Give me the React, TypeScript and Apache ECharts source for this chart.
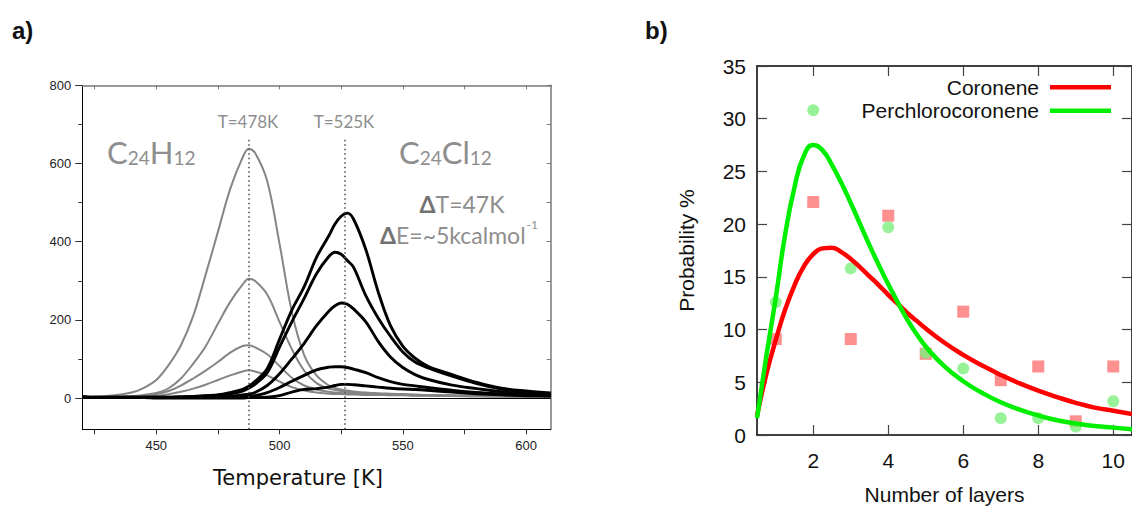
import React, { useEffect, useRef } from "react";
import * as echarts from "echarts";

// ---------- Panel a: TPD traces ----------
const temperatureK = [420, 430, 440, 445, 450, 455, 460, 465, 470, 475, 480, 485, 487.5, 490, 495, 500, 505, 510, 515, 520, 522.5, 525, 527.5, 530, 535, 540, 545, 550, 555, 560, 570, 580, 590, 600, 610];

// C24H12 (grey) traces
const c24h12Trace1 = [2, 5, 14, 26, 46, 84, 135, 210, 315, 425, 535, 615, 638, 628, 555, 395, 220, 110, 58, 32, 26, 22, 19, 17, 14, 12, 11, 10, 9, 8, 7, 6, 5, 4, 3];
const c24h12Trace2 = [1, 2, 5, 8, 13, 25, 50, 88, 132, 190, 246, 290, 305, 300, 265, 195, 125, 70, 38, 24, 21, 18, 16, 14, 12, 10, 9, 8, 7, 7, 6, 5, 4, 4, 3];
const c24h12Trace3 = [1, 2, 4, 6, 10, 18, 32, 50, 70, 92, 116, 133, 135, 130, 112, 82, 52, 32, 22, 16, 14, 13, 12, 11, 10, 9, 8, 8, 7, 7, 6, 5, 4, 3, 3];
const c24h12Trace4 = [0, 1, 2, 4, 6, 10, 16, 24, 34, 46, 58, 68, 71, 68, 58, 42, 28, 19, 14, 11, 10, 10, 9, 9, 8, 8, 7, 7, 6, 6, 5, 4, 4, 3, 3];

// C24Cl12 (black) traces
const c24cl12Trace1 = [3, 2, 2, 2, 2, 2, 3, 4, 6, 8, 14, 22, 30, 42, 75, 150, 225, 285, 360, 415, 445, 465, 473, 458, 380, 272, 185, 133, 102, 82, 60, 40, 25, 18, 13];
const c24cl12Trace2 = [3, 2, 2, 2, 2, 2, 3, 4, 5, 7, 11, 18, 25, 35, 65, 130, 195, 255, 318, 362, 373, 368, 352, 335, 262, 205, 158, 118, 92, 78, 56, 37, 23, 15, 10];
const c24cl12Trace3 = [2, 1, 1, 1, 1, 1, 1, 2, 2, 3, 5, 8, 10, 14, 32, 62, 100, 140, 185, 222, 236, 243, 240, 228, 195, 145, 105, 78, 60, 48, 33, 24, 16, 11, 8];
const c24cl12Trace4 = [2, 1, 1, 1, 1, 1, 1, 1, 1, 2, 2, 3, 4, 6, 14, 27, 43, 58, 72, 79, 80, 80, 78, 74, 65, 52, 42, 35, 31, 27, 20, 14, 10, 7, 6];
const c24cl12Trace5 = [2, 1, 1, 1, 0, 0, 0, 0, 0, 0, 0, 0, 1, 1, 2, 6, 15, 22, 24, 28, 32, 35, 35, 34, 31, 28, 25, 23, 22, 20, 15, 11, 8, 6, 5];

const peakMarkersK = [487.5, 526.5];
const aXTicks = [425, 450, 475, 500, 525, 550, 575, 600];
const aXLabels = [450, 500, 550, 600];
const aYTicks = [0, 100, 200, 300, 400, 500, 600, 700, 800];
const aYLabels = [0, 200, 400, 600, 800];
const aYMinor = [100, 300, 500, 700];

// ---------- Panel b: layer distribution ----------
const layers = [1, 2, 3, 4, 5, 6, 7, 8, 9, 10];
const coroneneObs = [9.1, 22.1, 9.1, 20.8, 7.7, 11.7, 5.2, 6.5, 1.3, 6.5];
const perchloroObs = [12.6, 30.8, 15.8, 19.7, 7.8, 6.3, 1.6, 1.6, 0.8, 3.2];
const fitLayers = [0.5, 0.75, 1, 1.25, 1.5, 1.75, 2, 2.25, 2.5, 2.75, 3, 3.25, 3.5, 3.75, 4, 4.25, 4.5, 4.75, 5, 5.5, 6, 6.5, 7, 7.5, 8, 8.5, 9, 9.5, 10, 10.5];
const coroneneFit = [1.8, 5.8, 9.0, 11.9, 14.2, 16.0, 17.15, 17.7, 17.75, 17.35, 16.7, 15.9, 15.05, 14.2, 13.3, 12.45, 11.6, 10.85, 10.1, 8.75, 7.6, 6.6, 5.7, 4.9, 4.2, 3.6, 3.05, 2.6, 2.3, 2.0];
const perchloroFit = [1.6, 7.5, 13.0, 19.0, 23.5, 26.5, 27.5, 27.0, 25.6, 23.9, 22.0, 20.0, 18.0, 16.1, 14.3, 12.6, 11.0, 9.6, 8.4, 6.5, 5.1, 4.0, 3.1, 2.4, 1.85, 1.4, 1.1, 0.85, 0.7, 0.55];
const bXTicks = [2, 4, 6, 8, 10];

const pairs = (xs: number[], ys: number[]) => xs.map((x, i) => [x, ys[i]]);

const GREY = "#858585";
const LABEL_GREY = "#8e8e8e";
const ANNOT_FONT = "Lato, 'Open Sans', sans-serif";

export default function App() {
  const ref = useRef<HTMLDivElement>(null);

  useEffect(() => {
    document.body.style.margin = "0";
    if (!ref.current) return;
    const chart = echarts.init(ref.current, undefined, { renderer: "svg" });

    const greyLine = (name: string, ys: number[]) => ({
      name,
      type: "line",
      xAxisIndex: 0,
      yAxisIndex: 0,
      data: pairs(temperatureK, ys),
      smooth: 0.35,
      showSymbol: false,
      symbol: "none",
      lineStyle: { color: GREY, width: 2 },
      z: 2,
    });
    const blackLine = (name: string, ys: number[]) => ({
      name,
      type: "line",
      xAxisIndex: 0,
      yAxisIndex: 0,
      data: pairs(temperatureK, ys),
      smooth: 0.35,
      showSymbol: false,
      symbol: "none",
      lineStyle: { color: "#000", width: 2.9 },
      z: 3,
    });

    const option: any = {
      animation: false,
      grid: [
        { left: 82.3, top: 85.3, width: 468.4, height: 344, containLabel: false },
        { left: 757, top: 66, width: 376, height: 374, containLabel: false },
      ],
      xAxis: [
        {
          type: "value", gridIndex: 0, position: "bottom", min: 420, max: 610,
          axisLine: { show: true, onZero: false, lineStyle: { color: "#000", width: 1 } },
          axisTick: { show: true, inside: false, length: 5, customValues: aXTicks, lineStyle: { color: "#333" } },
          axisLabel: { show: true, customValues: aXLabels, fontSize: 13, color: "#222", margin: 10, fontFamily: "Liberation Sans, Arial, sans-serif" },
          splitLine: { show: false },
        },
        {
          type: "value", gridIndex: 0, position: "top", min: 420, max: 610,
          axisLine: { show: true, onZero: false, lineStyle: { color: "#777", width: 1.5 } },
          axisTick: { show: true, inside: true, length: 4, customValues: aXTicks, lineStyle: { color: "#777" } },
          axisLabel: { show: false },
          splitLine: { show: false },
        },
        {
          type: "value", gridIndex: 1, position: "bottom", min: 0.5, max: 10.5,
          name: "Number of layers", nameLocation: "middle", nameGap: 49,
          nameTextStyle: { fontSize: 21, color: "#111", fontFamily: "Liberation Sans, Arial, sans-serif" },
          axisLine: { show: true, onZero: false, lineStyle: { color: "#000", width: 1.5 } },
          axisTick: { show: true, inside: true, length: 10, customValues: bXTicks, lineStyle: { color: "#444", width: 1.2 } },
          axisLabel: { show: true, customValues: bXTicks, fontSize: 21, color: "#111", margin: 15, fontFamily: "Liberation Sans, Arial, sans-serif" },
          splitLine: { show: false },
        },
        {
          type: "value", gridIndex: 1, position: "top", min: 0.5, max: 10.5,
          axisLine: { show: true, onZero: false, lineStyle: { color: "#000", width: 1.5 } },
          axisTick: { show: true, inside: true, length: 10, customValues: bXTicks, lineStyle: { color: "#444", width: 1.2 } },
          axisLabel: { show: false },
          splitLine: { show: false },
        },
      ],
      yAxis: [
        {
          type: "value", gridIndex: 0, position: "left", min: -80, max: 800,
          axisLine: { show: true, onZero: false, lineStyle: { color: "#000", width: 1 } },
          axisTick: { show: true, inside: false, length: 7, customValues: aYLabels, lineStyle: { color: "#333" } },
          axisLabel: { show: true, customValues: aYLabels, fontSize: 13, color: "#222", margin: 11, fontFamily: "Liberation Sans, Arial, sans-serif" },
          splitLine: { show: false },
        },
        {
          type: "value", gridIndex: 0, position: "right", min: -80, max: 800,
          axisLine: { show: true, onZero: false, lineStyle: { color: "#777", width: 1.5 } },
          axisTick: { show: true, inside: true, length: 4, customValues: aYTicks, lineStyle: { color: "#777" } },
          axisLabel: { show: false },
          splitLine: { show: false },
        },
        {
          type: "value", gridIndex: 0, position: "left", min: -80, max: 800,
          axisLine: { show: false },
          axisTick: { show: true, inside: false, length: 4, customValues: aYMinor, lineStyle: { color: "#333" } },
          axisLabel: { show: false },
          splitLine: { show: false },
        },
        {
          type: "value", gridIndex: 1, position: "left", min: 0, max: 35, interval: 5,
          name: "Probability %", nameLocation: "middle", nameGap: 60, nameRotate: 90,
          nameTextStyle: { fontSize: 21, color: "#111", fontFamily: "Liberation Sans, Arial, sans-serif" },
          axisLine: { show: true, onZero: false, lineStyle: { color: "#000", width: 1.5 } },
          axisTick: { show: true, inside: true, length: 10, lineStyle: { color: "#444", width: 1.2 } },
          axisLabel: { show: true, fontSize: 21, color: "#111", margin: 11, fontFamily: "Liberation Sans, Arial, sans-serif" },
          splitLine: { show: false },
        },
        {
          type: "value", gridIndex: 1, position: "right", min: 0, max: 35, interval: 5,
          axisLine: { show: true, onZero: false, lineStyle: { color: "#000", width: 1.5 } },
          axisTick: { show: true, inside: true, length: 10, lineStyle: { color: "#444", width: 1.2 } },
          axisLabel: { show: false },
          splitLine: { show: false },
        },
      ],
      series: [
        {
          ...greyLine("C24H12 trace 1", c24h12Trace1),
          markLine: {
            silent: true,
            symbol: ["none", "none"],
            label: { show: false },
            data: [
              { yAxis: 0, lineStyle: { color: "#000", width: 1, type: "solid" } },
              [
                { coord: [peakMarkersK[0], -80], lineStyle: { color: "#555", width: 1.6, type: [1.5, 3] } },
                { coord: [peakMarkersK[0], 665] },
              ],
              [
                { coord: [peakMarkersK[1], -80], lineStyle: { color: "#555", width: 1.6, type: [1.5, 3] } },
                { coord: [peakMarkersK[1], 665] },
              ],
            ],
          },
        },
        greyLine("C24H12 trace 2", c24h12Trace2),
        greyLine("C24H12 trace 3", c24h12Trace3),
        greyLine("C24H12 trace 4", c24h12Trace4),
        blackLine("C24Cl12 trace 1", c24cl12Trace1),
        blackLine("C24Cl12 trace 2", c24cl12Trace2),
        blackLine("C24Cl12 trace 3", c24cl12Trace3),
        blackLine("C24Cl12 trace 4", c24cl12Trace4),
        blackLine("C24Cl12 trace 5", c24cl12Trace5),
        {
          name: "Coronene data", type: "scatter", xAxisIndex: 2, yAxisIndex: 3,
          data: pairs(layers, coroneneObs), symbol: "rect", symbolSize: 12,
          itemStyle: { color: "#ff7474" }, z: 2,
        },
        {
          name: "Perchlorocoronene data", type: "scatter", xAxisIndex: 2, yAxisIndex: 3,
          data: pairs(layers, perchloroObs), symbol: "circle", symbolSize: 12,
          itemStyle: { color: "#7ef07e" }, z: 3,
        },
        {
          name: "Coronene", type: "line", xAxisIndex: 2, yAxisIndex: 3,
          data: pairs(fitLayers, coroneneFit), smooth: 0.5, showSymbol: false, symbol: "none",
          lineStyle: { color: "#ff0000", width: 4.5 }, z: 4,
        },
        {
          name: "Perchlorocoronene", type: "line", xAxisIndex: 2, yAxisIndex: 3,
          data: pairs(fitLayers, perchloroFit), smooth: 0.5, showSymbol: false, symbol: "none",
          lineStyle: { color: "#00ee00", width: 4.5 }, z: 5,
        },
      ],
      graphic: [
        { type: "text", x: 12, y: 30, style: { text: "a)", font: "bold 24px 'Liberation Sans', Arial, sans-serif", fill: "#111", verticalAlign: "middle" } },
        { type: "text", x: 645, y: 30, style: { text: "b)", font: "bold 24px 'Liberation Sans', Arial, sans-serif", fill: "#111", verticalAlign: "middle" } },
        { type: "text", x: 298, y: 478, style: { text: "Temperature [K]", font: "21px 'DejaVu Sans', Verdana, sans-serif", fill: "#111", align: "center", verticalAlign: "middle" } },
        { type: "text", x: 248, y: 121.5, style: { text: "T=478K", font: `17px ${ANNOT_FONT}`, fill: LABEL_GREY, align: "center", verticalAlign: "middle" } },
        { type: "text", x: 344, y: 121.5, style: { text: "T=525K", font: `17px ${ANNOT_FONT}`, fill: LABEL_GREY, align: "center", verticalAlign: "middle" } },
        {
          type: "text", x: 107, y: 150,
          style: {
            text: "{a|C}{s|24}{a|H}{s|12}", fill: LABEL_GREY, align: "left", verticalAlign: "middle",
            rich: {
              a: { fontSize: 31, fontFamily: ANNOT_FONT, fill: LABEL_GREY, lineHeight: 34, verticalAlign: "bottom" },
              s: { fontSize: 19, fontFamily: ANNOT_FONT, fill: LABEL_GREY, lineHeight: 26, verticalAlign: "bottom" },
            },
          },
        },
        {
          type: "text", x: 399, y: 150,
          style: {
            text: "{a|C}{s|24}{a|Cl}{s|12}", fill: LABEL_GREY, align: "left", verticalAlign: "middle",
            rich: {
              a: { fontSize: 31, fontFamily: ANNOT_FONT, fill: LABEL_GREY, lineHeight: 34, verticalAlign: "bottom" },
              s: { fontSize: 19, fontFamily: ANNOT_FONT, fill: LABEL_GREY, lineHeight: 26, verticalAlign: "bottom" },
            },
          },
        },
        {
          type: "text", x: 462, y: 204,
          style: {
            text: "{d|Δ}{a|T=47K}", align: "center", verticalAlign: "middle",
            rich: {
              d: { fontSize: 23, fontFamily: ANNOT_FONT, fontWeight: "bold", fill: "#727272" },
              a: { fontSize: 23, fontFamily: ANNOT_FONT, fill: LABEL_GREY },
            },
          },
        },
        {
          type: "text", x: 459, y: 232,
          style: {
            text: "{d|Δ}{a|E=~5kcalmol}{p|-1}", align: "center", verticalAlign: "middle",
            rich: {
              d: { fontSize: 23, fontFamily: ANNOT_FONT, fontWeight: "bold", fill: "#727272", lineHeight: 28, verticalAlign: "bottom" },
              a: { fontSize: 23, fontFamily: ANNOT_FONT, fill: LABEL_GREY, lineHeight: 28, verticalAlign: "bottom" },
              p: { fontSize: 12, fontFamily: ANNOT_FONT, fill: LABEL_GREY, lineHeight: 26, verticalAlign: "top", padding: [0, 0, 0, 1] },
            },
          },
        },
        { type: "text", x: 1039, y: 87.5, style: { text: "Coronene", font: "21px 'Liberation Sans', Arial, sans-serif", fill: "#111", align: "right", verticalAlign: "middle" } },
        { type: "line", shape: { x1: 1050, y1: 87.3, x2: 1111, y2: 87.3 }, style: { stroke: "#ff0000", lineWidth: 4.5 } },
        { type: "text", x: 1039, y: 110.8, style: { text: "Perchlorocoronene", font: "21px 'Liberation Sans', Arial, sans-serif", fill: "#111", align: "right", verticalAlign: "middle" } },
        { type: "line", shape: { x1: 1050, y1: 110.7, x2: 1111, y2: 110.7 }, style: { stroke: "#00ee00", lineWidth: 4.5 } },
      ],
    };

    chart.setOption(option);
    return () => chart.dispose();
  }, []);

  return <div ref={ref} style={{ width: 1132, height: 510 }} />;
}
